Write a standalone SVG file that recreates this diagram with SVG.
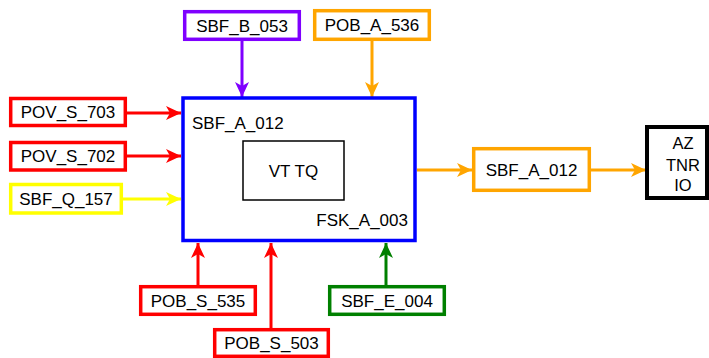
<svg xmlns="http://www.w3.org/2000/svg" width="709" height="358" viewBox="0 0 709 358">
<style>
text{font-family:"Liberation Sans",Arial,sans-serif;font-size:17px;fill:#000}
.c{text-anchor:middle}
.box{fill:#fff;stroke-width:3.5}
.ln{fill:none;stroke-width:3}
.s16{font-size:16.5px}
</style>
<defs>
<marker id="aR" viewBox="0 0 15 14" refX="15" refY="7" markerWidth="15" markerHeight="14" markerUnits="userSpaceOnUse" orient="auto"><path d="M0,0 L15,7 L0,14 L4,7 z" fill="#ff0000"/></marker>
<marker id="aY" viewBox="0 0 15 14" refX="15" refY="7" markerWidth="15" markerHeight="14" markerUnits="userSpaceOnUse" orient="auto"><path d="M0,0 L15,7 L0,14 L4,7 z" fill="#ffff00"/></marker>
<marker id="aP" viewBox="0 0 15 14" refX="15" refY="7" markerWidth="15" markerHeight="14" markerUnits="userSpaceOnUse" orient="auto"><path d="M0,0 L15,7 L0,14 L4,7 z" fill="#7f00ff"/></marker>
<marker id="aO" viewBox="0 0 15 14" refX="15" refY="7" markerWidth="15" markerHeight="14" markerUnits="userSpaceOnUse" orient="auto"><path d="M0,0 L15,7 L0,14 L4,7 z" fill="#ffa500"/></marker>
<marker id="aG" viewBox="0 0 15 14" refX="15" refY="7" markerWidth="15" markerHeight="14" markerUnits="userSpaceOnUse" orient="auto"><path d="M0,0 L15,7 L0,14 L4,7 z" fill="#008000"/></marker>
</defs>
<rect width="709" height="358" fill="#fff"/>
<g id="connectors">
<line class="ln" x1="242" y1="41" x2="242" y2="97" stroke="#7f00ff" marker-end="url(#aP)"/>
<line class="ln" x1="372" y1="41" x2="372" y2="97" stroke="#ffa500" marker-end="url(#aO)"/>
<line class="ln" x1="127" y1="113" x2="181" y2="113" stroke="#ff0000" marker-end="url(#aR)"/>
<line class="ln" x1="127" y1="156" x2="181" y2="156" stroke="#ff0000" marker-end="url(#aR)"/>
<line class="ln" x1="123" y1="199" x2="181" y2="199" stroke="#ffff00" marker-end="url(#aY)"/>
<line class="ln" x1="198" y1="285" x2="198" y2="243" stroke="#ff0000" marker-end="url(#aR)"/>
<line class="ln" x1="271" y1="328" x2="271" y2="243" stroke="#ff0000" marker-end="url(#aR)"/>
<line class="ln" x1="386" y1="285" x2="386" y2="243" stroke="#008000" marker-end="url(#aG)"/>
<line class="ln" x1="417" y1="170" x2="472" y2="170" stroke="#ffa500" marker-end="url(#aO)"/>
<line class="ln" x1="591" y1="170" x2="646" y2="170" stroke="#ffa500" marker-end="url(#aO)"/>
</g>
<g id="main">
<rect x="183" y="98" width="232" height="142.5" fill="#fff" stroke="#0000ff" stroke-width="3.5"/>
<text x="192" y="129">SBF_A_012</text>
<text x="408" y="226" text-anchor="end">FSK_A_003</text>
</g>
<g id="vttq">
<rect x="243" y="141" width="101" height="59" fill="#fff" stroke="#000" stroke-width="1.5"/>
<text class="c" x="293.5" y="177">VT TQ</text>
</g>
<g id="sbf_b_053">
<rect class="box" x="184.7" y="11.7" width="114.6" height="27.6" stroke="#7f00ff"/>
<text class="c" x="242" y="31.5">SBF_B_053</text>
</g>
<g id="pob_a_536">
<rect class="box" x="314.7" y="10.7" width="114.6" height="28.6" stroke="#ffa500"/>
<text class="c" x="372" y="31">POB_A_536</text>
</g>
<g id="pov_s_703">
<rect class="box" x="10.7" y="98.5" width="114.6" height="27" stroke="#ff0000"/>
<text class="c" x="68" y="118">POV_S_703</text>
</g>
<g id="pov_s_702">
<rect class="box" x="10.7" y="142.5" width="114.6" height="27.5" stroke="#ff0000"/>
<text class="c" x="68" y="162">POV_S_702</text>
</g>
<g id="sbf_q_157">
<rect class="box" x="10.7" y="184.5" width="110.6" height="28.5" stroke="#ffff00"/>
<text class="c" x="66" y="205">SBF_Q_157</text>
</g>
<g id="pob_s_535">
<rect class="box" x="140.7" y="286.7" width="114.6" height="27.6" stroke="#ff0000"/>
<text class="c" x="198" y="306.5">POB_S_535</text>
</g>
<g id="pob_s_503">
<rect class="box" x="214.7" y="329.7" width="113.6" height="26.6" stroke="#ff0000"/>
<text class="c" x="271.5" y="349">POB_S_503</text>
</g>
<g id="sbf_e_004">
<rect class="box" x="329.7" y="286.7" width="114.6" height="27.6" stroke="#008000"/>
<text class="c" x="387" y="306.5">SBF_E_004</text>
</g>
<g id="sbf_a_012_out">
<rect class="box" x="473.7" y="148.7" width="115.6" height="41.6" stroke="#ffa500"/>
<text class="c" x="531.5" y="176">SBF_A_012</text>
</g>
<g id="az_tnr_io">
<rect x="647" y="127" width="60" height="71" fill="#fff" stroke="#000" stroke-width="4"/>
<text class="c s16" x="683" y="148.5">AZ</text>
<text class="c s16" x="683" y="170.5">TNR</text>
<text class="c s16" x="683" y="190.5">IO</text>
</g>
</svg>
